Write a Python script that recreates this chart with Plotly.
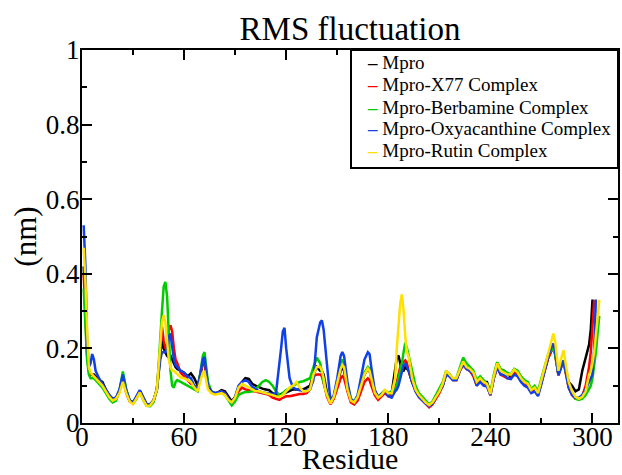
import plotly.graph_objects as go

residue = [1,2,3,4,5,6,7,8,10,12,14,16,18,20,22,
           24,26,28,30,32,34,36,38,40,42,44,45,46,
           47,48,49,50,51,52,53,54,55,56,58,60,62,64,66,68,
           70,71,72,73,74,76,78,80,82,84,86,88,90,92,94,96,98,
           100,102,104,106,108,110,112,114,116,117,118,119,120,122,124,126,128,130,132,134,136,
           138,140,141,142,143,144,146,148,150,152,153,154,156,158,160,162,164,166,168,169,170,172,174,176,178,180,182,
           184,185,186,187,188,189,190,191,192,194,196,198,200,202,204,206,208,210,212,214,216,218,220,222,224,226,228,
           230,232,234,236,238,240,242,244,246,248,250,252,254,256,258,260,262,264,266,268,270,272,274,
           276,277,278,280,282,283,284,286,288,290,292,294,296,298,299,300,301,302,303,304]

mpro = [.42,.30,.19,.14,.13,.13,.13,.125,.115,.11,.09,.075,.065,.068,.085,
        .125,.085,.06,.055,.07,.087,.068,.05,.05,.06,.09,.13,.18,
        .226,.2,.19,.18,.175,.18,.17,.16,.15,.145,.14,.135,.125,.133,.12,.1,
        .14,.16,.165,.13,.1,.085,.08,.082,.088,.085,.07,.058,.07,.095,.11,.12,.118,
        .105,.1,.095,.092,.09,.088,.08,.075,.075,.078,.08,.08,.082,.088,.09,.09,.09,.09,.095,.1,.13,
        .15,.14,.14,.13,.1,.08,.055,.07,.1,.14,.15,.14,.09,.06,.055,.07,.1,.13,.145,.14,.12,.08,.068,.075,.085,.078,.08,
        .14,.175,.181,.16,.14,.14,.15,.145,.14,.11,.09,.075,.065,.055,.048,.055,.07,.085,.1,.13,.13,.115,.115,.14,.165,.15,.14,
        .13,.105,.12,.11,.11,.08,.125,.16,.14,.14,.13,.125,.14,.135,.12,.11,.105,.09,.095,.08,.11,.14,.175,
        .195,.2,.19,.13,.16,.165,.15,.11,.1,.085,.09,.14,.175,.21,.25,.331,None,None,None,None]

x77 = [.40,.28,.18,.14,.13,.13,.125,.12,.11,.10,.085,.07,.06,.065,.085,
       .12,.08,.058,.053,.068,.085,.065,.048,.048,.058,.09,.14,.2,
       .258,.22,.2,.21,.25,.262,.245,.2,.17,.16,.135,.125,.115,.105,.1,.09,
       .14,.16,.165,.13,.1,.082,.078,.08,.085,.08,.065,.055,.065,.085,.095,.09,.088,
       .088,.085,.082,.08,.078,.075,.068,.065,.062,.065,.068,.07,.072,.072,.074,.078,.078,.078,.08,.09,.125,
       .13,.13,.125,.11,.09,.07,.05,.065,.09,.12,.125,.12,.085,.055,.05,.06,.085,.11,.12,.115,.1,.075,.062,.07,.08,.072,.072,
       .09,.11,.13,.15,.16,.165,.168,.16,.14,.11,.085,.07,.06,.05,.042,.05,.065,.08,.1,.135,.125,.115,.115,.14,.155,.145,.14,
       .125,.1,.115,.105,.1,.074,.12,.15,.13,.125,.12,.12,.135,.13,.115,.105,.1,.085,.09,.075,.11,.14,.175,
       .195,.2,.185,.128,.155,.16,.14,.095,.075,.065,.065,.072,.1,.15,.19,.26,.33,None,None,None]

berbamine = [.36,.25,.17,.13,.12,.12,.12,.115,.105,.095,.08,.065,.055,.06,.085,
             .138,.09,.06,.052,.065,.085,.062,.046,.045,.055,.09,.15,.24,
             .30,.365,.378,.34,.24,.14,.1,.095,.11,.115,.11,.105,.1,.095,.09,.085,
             .15,.18,.19,.15,.11,.085,.078,.08,.082,.075,.06,.047,.058,.075,.08,.083,.083,
             .085,.09,.1,.11,.115,.11,.1,.085,.075,.075,.08,.085,.088,.092,.1,.105,.11,.112,.115,.12,.15,
             .175,.16,.13,.11,.09,.075,.055,.07,.11,.16,.17,.16,.1,.065,.058,.075,.1,.135,.15,.145,.125,.085,.07,.078,.088,.08,.085,
             .09,.1,.12,.14,.16,.19,.215,.2,.18,.14,.1,.08,.07,.058,.05,.058,.075,.09,.11,.14,.13,.12,.12,.15,.175,.16,.15,
             .14,.115,.125,.115,.105,.08,.13,.163,.145,.14,.135,.13,.145,.14,.125,.115,.11,.09,.1,.085,.12,.15,.185,
             .195,.2,.185,.13,.16,.165,.145,.1,.08,.065,.062,.065,.075,.09,.1,.12,.15,.19,.24,.287]

oxyacanthine = [.53,.42,.22,.15,.16,.185,.17,.14,.12,.105,.09,.075,.065,.068,.09,
                .13,.088,.062,.055,.07,.088,.068,.05,.05,.06,.09,.13,.17,
                .19,.19,.19,.2,.23,.24,.2,.17,.155,.15,.14,.135,.125,.12,.1,.09,
                .145,.17,.177,.14,.1,.085,.08,.082,.085,.08,.065,.055,.07,.1,.11,.115,.11,
                .097,.09,.085,.082,.08,.08,.078,.08,.15,.2,.245,.255,.2,.12,.095,.09,.088,.085,.088,.09,.115,
                .23,.27,.275,.25,.2,.15,.06,.075,.12,.18,.19,.18,.11,.065,.055,.075,.12,.17,.19,.185,.15,.09,.07,.078,.085,.072,.068,
                .085,.09,.1,.12,.14,.155,.159,.15,.14,.11,.085,.07,.06,.052,.045,.052,.07,.085,.1,.13,.125,.115,.115,.14,.158,.145,.14,
                .13,.1,.11,.1,.098,.075,.12,.15,.13,.13,.12,.118,.13,.125,.11,.1,.095,.08,.085,.072,.105,.14,.18,
                .205,.213,.195,.128,.155,.168,.145,.095,.075,.068,.068,.075,.09,.11,.12,.13,.2,.331,None,None]

rutin = [.47,.38,.25,.15,.135,.13,.125,.12,.11,.10,.085,.07,.06,.065,.08,
         .11,.08,.058,.05,.065,.082,.062,.046,.047,.06,.09,.15,.22,
         .27,.289,.27,.22,.17,.15,.14,.14,.135,.13,.122,.12,.115,.11,.095,.085,
         .12,.135,.137,.115,.09,.08,.076,.078,.08,.075,.062,.055,.068,.095,.105,.1,.095,
         .09,.085,.085,.082,.08,.078,.075,.072,.07,.072,.075,.08,.085,.095,.1,.11,.095,.085,.085,.09,.13,
         .15,.15,.14,.12,.09,.075,.052,.07,.11,.145,.155,.15,.09,.06,.055,.07,.1,.13,.146,.14,.12,.082,.068,.075,.088,.08,.08,
         .12,.2,.267,.32,.345,.3,.23,.19,.177,.12,.09,.075,.065,.055,.048,.055,.07,.085,.105,.14,.13,.12,.12,.145,.165,.15,.145,
         .135,.11,.12,.11,.105,.078,.125,.16,.14,.135,.13,.13,.143,.135,.12,.11,.105,.088,.095,.08,.115,.15,.19,
         .225,.24,.22,.14,.18,.195,.165,.11,.085,.07,.065,.07,.085,.13,.14,.16,.19,.23,.28,.33]

series_names = ["Mpro", "Mpro-X77 Complex", "Mpro-Berbamine Complex",
                "Mpro-Oxyacanthine Complex", "Mpro-Rutin Complex"]
series_values = [mpro, x77, berbamine, oxyacanthine, rutin]
series_colors = ["#000000", "#ff0000", "#00cc00", "#1040e8", "#ffe000"]

x_ticks = [0, 60, 120, 180, 240, 300]
y_ticks = [0, 0.2, 0.4, 0.6, 0.8, 1]

FONT = "Liberation Serif, Times New Roman, serif"
W, H = 622, 475
L, R, T, B = 82, 4, 50, 52
PW, PH = W - L - R, H - T - B

fig = go.Figure()
for name, vals, col in zip(series_names, series_values, series_colors):
    fig.add_trace(go.Scatter(x=residue, y=vals, mode="lines", name=name,
                             line=dict(color=col, width=2.5), showlegend=False))

axis_common = dict(
    showline=True, linecolor="black", linewidth=2, mirror="ticks",
    ticks="inside", ticklen=10, tickwidth=2, tickcolor="black",
    showgrid=False, zeroline=False, automargin=False,
    tickfont=dict(family=FONT, size=27, color="black"),
)

# legend box (Grace style) drawn in paper coordinates
leg_left_px, leg_bottom_px = 351, 168
shapes = [dict(type="rect", xref="paper", yref="paper",
               x0=(leg_left_px - L) / PW, x1=1, y0=(H - B - leg_bottom_px) / PH, y1=1,
               line=dict(color="black", width=2), fillcolor="white", layer="above")]
annotations = []
row_px = [62, 84.5, 107, 128.5, 150.5]
for name, col, ypx in zip(series_names, series_colors, row_px):
    annotations.append(dict(
        xref="paper", yref="paper", x=(365 - L) / PW, y=(H - B - ypx) / PH,
        xanchor="left", yanchor="middle", showarrow=False,
        text=f"<span style='color:{col}'><b>–</b></span> {name}",
        font=dict(family=FONT, size=19, color="black")))

fig.update_layout(
    width=W, height=H,
    margin=dict(l=L, r=R, t=T, b=B),
    paper_bgcolor="white", plot_bgcolor="white",
    title=dict(text="RMS fluctuation", x=(L + W - R) / 2 / W, xanchor="center",
               y=1 - 28/475, yanchor="middle", yref="container",
               font=dict(family=FONT, size=33, color="black")),
    xaxis=dict(range=[0, 315], tickvals=x_ticks, ticklabelstandoff=-11,
               minor=dict(dtick=30, ticks="inside", ticklen=5, tickwidth=2, tickcolor="black"),
               title=dict(text="Residue", font=dict(family=FONT, size=30, color="black"), standoff=12),
               **axis_common),
    yaxis=dict(range=[0, 1], tickvals=y_ticks, ticklabelstandoff=-5,
               minor=dict(dtick=0.1, ticks="inside", ticklen=5, tickwidth=2, tickcolor="black"),
               title=dict(text="(nm)", font=dict(family=FONT, size=31, color="black"), standoff=0),
               **axis_common),
    shapes=shapes,
    annotations=annotations,
    showlegend=False,
)

fig.write_html("out.html", config={"displayModeBar": False},
               post_script="document.body.style.margin='0';")
